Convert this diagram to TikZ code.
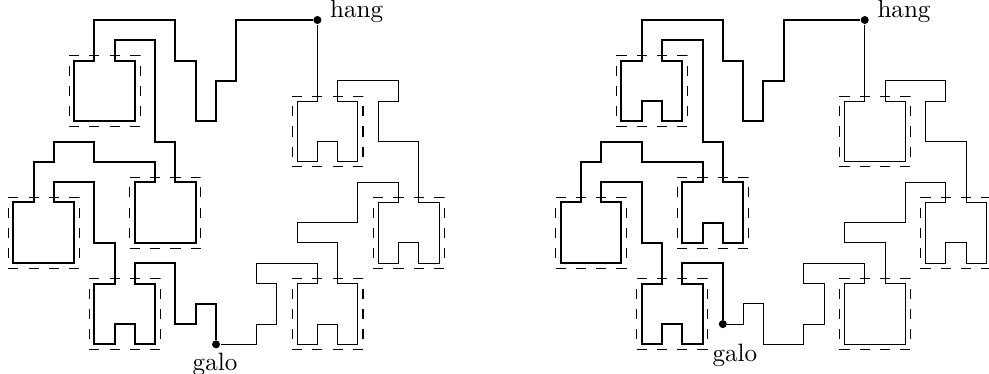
\documentclass[tikz,border=0pt]{standalone}
\usetikzlibrary{positioning}

\begin{document}
\begin{tikzpicture}[
  x=0.284cm, y=-0.284cm,
  route/.style={thick},
  rest/.style={thin},
  module/.style={thin, dash pattern=on 0.142cm off 0.142cm},
  dot/.style={circle, fill, inner sep=0pt, minimum size=3.2pt},
  tag/.style={inner sep=0pt}
]
  \useasboundingbox (-0.656,-0.987) rectangle (48.13,17.46);

  % ---------- first curve ----------
  \begin{scope}
    \node[dot] (hangL) at (15,0) {};
    \node[dot] (galoL) at (10,16) {};
    \node[tag, anchor=base west, xshift=4.9pt, yshift=1.1pt] (hangTagL) at (hangL.center) {hang};
    \node[tag, anchor=north, xshift=-0.4pt, yshift=-3.4pt] (galoTagL) at (galoL.center) {galo};

    % dashed frames round the 3x3 cells
    \foreach \mx/\my in {3/2, 6/8, 0/9, 4/13, 14/13, 18/9, 14/4}
      \draw[module] (\mx-0.25,\my+3.25) -- ++(3.5,0) -- ++(0,-3.5) -- ++(-3.5,0) -- cycle;

    % thick arc: hang -> galo over the left half
    \draw[route] (hangL) -- (11,0) -- (11,3) -- (10,3) -- (10,5) -- (9,5) -- (9,2) -- (8,2) -- (8,0)
      -- (4,0) -- (4,2) -- (3,2) -- (3,5) -- (6,5) -- (6,2) -- (5,2) -- (5,1) -- (7,1) -- (7,6)
      -- (8,6) -- (8,8) -- (9,8) -- (9,11) -- (6,11) -- (6,8) -- (7,8) -- (7,7) -- (4,7) -- (4,6)
      -- (2,6) -- (2,7) -- (1,7) -- (1,9) -- (0,9) -- (0,12) -- (3,12) -- (3,9) -- (2,9) -- (2,8)
      -- (4,8) -- (4,11) -- (5,11) -- (5,13) -- (4,13) -- (4,16) -- (5,16) -- (5,15) -- (6,15)
      -- (6,16) -- (7,16) -- (7,13) -- (6,13) -- (6,12) -- (8,12) -- (8,15) -- (9,15) -- (9,14)
      -- (10,14) -- (galoL);
    % thin arc: galo -> hang over the right half
    \draw[rest] (galoL) -- (12,16) -- (12,15) -- (13,15) -- (13,13) -- (12,13) -- (12,12) -- (15,12)
      -- (15,13) -- (14,13) -- (14,16) -- (15,16) -- (15,15) -- (16,15) -- (16,16) -- (17,16)
      -- (17,13) -- (16,13) -- (16,11) -- (14,11) -- (14,10) -- (17,10) -- (17,8) -- (19,8) -- (19,9)
      -- (18,9) -- (18,12) -- (19,12) -- (19,11) -- (20,11) -- (20,12) -- (21,12) -- (21,9) -- (20,9)
      -- (20,6) -- (18,6) -- (18,4) -- (19,4) -- (19,3) -- (16,3) -- (16,4) -- (17,4) -- (17,7)
      -- (16,7) -- (16,6) -- (15,6) -- (15,7) -- (14,7) -- (14,4) -- (15,4) -- (hangL);
  \end{scope}

  % ---------- second curve, notches moved ----------
  \begin{scope}[shift={(27,0)}]
    \node[dot] (hangR) at (15,0) {};
    \node[dot] (galoR) at (8,15) {};
    \node[tag, anchor=base west, xshift=4.9pt, yshift=1.1pt] (hangTagR) at (hangR.center) {hang};
    \node[tag, anchor=north, xshift=4.8pt, yshift=-7.7pt] (galoTagR) at (galoR.center) {galo};

    \foreach \mx/\my in {3/2, 6/8, 0/9, 4/13, 14/13, 18/9, 14/4}
      \draw[module] (\mx-0.25,\my+3.25) -- ++(3.5,0) -- ++(0,-3.5) -- ++(-3.5,0) -- cycle;

    \draw[route] (hangR) -- (11,0) -- (11,3) -- (10,3) -- (10,5) -- (9,5) -- (9,2) -- (8,2) -- (8,0)
      -- (4,0) -- (4,2) -- (3,2) -- (3,5) -- (4,5) -- (4,4) -- (5,4) -- (5,5) -- (6,5) -- (6,2)
      -- (5,2) -- (5,1) -- (7,1) -- (7,6) -- (8,6) -- (8,8) -- (9,8) -- (9,11) -- (8,11) -- (8,10)
      -- (7,10) -- (7,11) -- (6,11) -- (6,8) -- (7,8) -- (7,7) -- (4,7) -- (4,6) -- (2,6) -- (2,7)
      -- (1,7) -- (1,9) -- (0,9) -- (0,12) -- (3,12) -- (3,9) -- (2,9) -- (2,8) -- (4,8) -- (4,11)
      -- (5,11) -- (5,13) -- (4,13) -- (4,16) -- (5,16) -- (5,15) -- (6,15) -- (6,16) -- (7,16)
      -- (7,13) -- (6,13) -- (6,12) -- (8,12) -- (galoR);
    \draw[rest] (galoR) -- (9,15) -- (9,14) -- (10,14) -- (10,16) -- (12,16) -- (12,15) -- (13,15)
      -- (13,13) -- (12,13) -- (12,12) -- (15,12) -- (15,13) -- (14,13) -- (14,16) -- (17,16)
      -- (17,13) -- (16,13) -- (16,11) -- (14,11) -- (14,10) -- (17,10) -- (17,8) -- (19,8) -- (19,9)
      -- (18,9) -- (18,12) -- (19,12) -- (19,11) -- (20,11) -- (20,12) -- (21,12) -- (21,9) -- (20,9)
      -- (20,6) -- (18,6) -- (18,4) -- (19,4) -- (19,3) -- (16,3) -- (16,4) -- (17,4) -- (17,7)
      -- (14,7) -- (14,4) -- (15,4) -- (hangR);
  \end{scope}
\end{tikzpicture}
\end{document}
